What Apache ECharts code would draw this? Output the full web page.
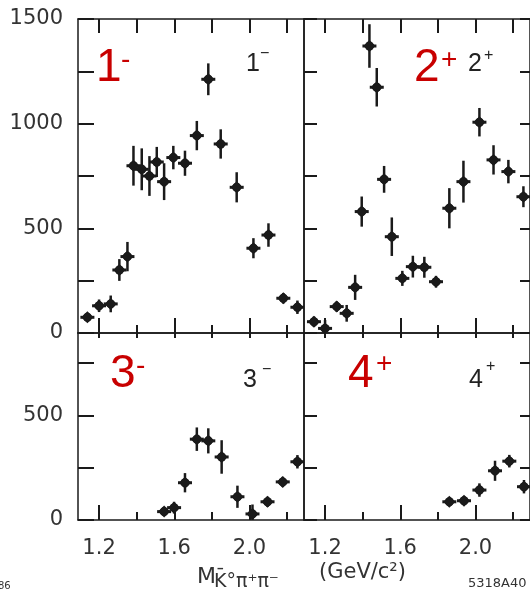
<!DOCTYPE html>
<html>
<head>
<meta charset="utf-8">
<script src="https://cdn.jsdelivr.net/npm/echarts@6/dist/echarts.min.js"></script>
<style>
  html, body { margin: 0; padding: 0; background: #fff; }
  #chart { width: 530px; height: 591px; }
</style>
</head>
<body>
<div id="chart"></div>
<script>
// K̄0 π+ π- invariant-mass spectra split by J^P wave.
// Bin centres in GeV/c^2, events per bin and their statistical errors.

// 1- wave
const massJ1   = [1.138, 1.200, 1.262, 1.308, 1.351, 1.383, 1.427, 1.468, 1.507, 1.546,
                  1.595, 1.657, 1.720, 1.781, 1.847, 1.932, 2.021, 2.101, 2.180, 2.255];
const eventsJ1 = [75, 130, 139, 301, 365, 799, 782, 750, 817, 723,
                  838, 811, 943, 1212, 903, 696, 405, 468, 166, 123];
const errorsJ1 = [20, 30, 40, 52, 70, 95, 100, 95, 72, 88,
                  56, 60, 70, 76, 70, 72, 48, 56, 25, 32];

// 2+ wave
const massJ2   = [1.141, 1.200, 1.262, 1.315, 1.360, 1.395, 1.436, 1.475, 1.514, 1.555,
                  1.611, 1.667, 1.728, 1.790, 1.861, 1.936, 2.021, 2.096, 2.175, 2.255];
const eventsJ2 = [54, 22, 126, 94, 218, 580, 1371, 1174, 734, 460,
                  261, 317, 314, 245, 596, 723, 1007, 827, 771, 651];
const errorsJ2 = [25, 40, 25, 40, 60, 72, 104, 92, 64, 92,
                  36, 52, 50, 28, 96, 100, 68, 70, 56, 50];

// 3- wave
const massJ3   = [1.546, 1.599, 1.657, 1.720, 1.781, 1.852, 1.936, 2.016, 2.096, 2.177, 2.255];
const eventsJ3 = [40, 59, 178, 386, 378, 301, 111, 29, 87, 182, 278];
const errorsJ3 = [20, 28, 46, 56, 60, 80, 53, 45, 24, 24, 32];

// 4+ wave
const massJ4   = [1.861, 1.939, 2.021, 2.104, 2.180, 2.258];
const eventsJ4 = [87, 92, 143, 235, 281, 159];
const errorsJ4 = [15, 15, 32, 48, 30, 32];

// Axis ticks and labels
const massMajorTicks = [1.2, 1.6, 2.0];
const massMinorTicks = [1.4, 1.8, 2.2];
const massAllTicks   = [1.2, 1.4, 1.6, 1.8, 2.0, 2.2];
const massLabels     = [1.2, 1.6, 2.0];
const countTicksTop    = [0, 250, 500, 750, 1000, 1250, 1500];
const countLabelsTop   = [0, 500, 1000, 1500];
const countTicksBottom  = [0, 250, 500, 750];
const countLabelsBottom = [0, 500];

const MASS_MIN = 1.088, MASS_MAX = 2.290;
const INK = '#1a1a1a';
const AXIS_FONT = '"DejaVu Sans", sans-serif';

const panels = [
  { left: 78,  top: 19,  height: 314, yMax: 1500, mass: massJ1, events: eventsJ1, errors: errorsJ1,
    isLeft: true,  isBottom: false, yTicks: countTicksTop, yLabels: countLabelsTop },
  { left: 304, top: 19,  height: 314, yMax: 1500, mass: massJ2, events: eventsJ2, errors: errorsJ2,
    isLeft: false, isBottom: false, yTicks: countTicksTop, yLabels: countLabelsTop },
  { left: 78,  top: 333, height: 187, yMax: 893,  mass: massJ3, events: eventsJ3, errors: errorsJ3,
    isLeft: true,  isBottom: true,  yTicks: countTicksBottom, yLabels: countLabelsBottom },
  { left: 304, top: 333, height: 187, yMax: 893,  mass: massJ4, events: eventsJ4, errors: errorsJ4,
    isLeft: false, isBottom: true,  yTicks: countTicksBottom, yLabels: countLabelsBottom }
];

const lineStyle = { color: INK, width: 1.5 };

const grid = [], xAxis = [], yAxis = [], series = [];

panels.forEach((p, g) => {
  grid.push({ left: p.left, top: p.top, width: 226, height: p.height,
              containLabel: false, outerBoundsMode: 'none' });

  // bottom axis: frame line, long ticks and mass labels
  xAxis.push({
    type: 'value', gridIndex: g, position: 'bottom', min: MASS_MIN, max: MASS_MAX,
    axisLine: { show: true, onZero: false, lineStyle },
    axisTick: { show: true, inside: true, length: 15, customValues: massMajorTicks,
                lineStyle: { color: INK, width: 2 } },
    axisLabel: { show: p.isBottom, customValues: massLabels, margin: 18,
                 fontSize: 21, fontFamily: AXIS_FONT, color: '#333',
                 formatter: v => v.toFixed(1) },
    splitLine: { show: false }
  });
  // bottom axis: short intermediate ticks
  xAxis.push({
    type: 'value', gridIndex: g, position: 'bottom', min: MASS_MIN, max: MASS_MAX,
    axisLine: { show: false, onZero: false },
    axisTick: { show: true, inside: true, length: 8, customValues: massMinorTicks,
                lineStyle: { color: INK, width: 2 } },
    axisLabel: { show: false }, splitLine: { show: false }
  });
  // top frame with ticks
  xAxis.push({
    type: 'value', gridIndex: g, position: 'top', min: MASS_MIN, max: MASS_MAX,
    axisLine: { show: true, onZero: false, lineStyle },
    axisTick: { show: true, inside: true, length: p.isBottom ? 5 : 14, customValues: massAllTicks,
                lineStyle: { color: INK, width: 2 } },
    axisLabel: { show: false }, splitLine: { show: false }
  });

  // left axis: event counts
  yAxis.push({
    type: 'value', gridIndex: g, position: 'left', min: 0, max: p.yMax,
    axisLine: { show: true, onZero: false, lineStyle },
    axisTick: { show: true, inside: true, length: p.isLeft ? 16 : 13, customValues: p.yTicks,
                lineStyle: { color: INK, width: 2 } },
    axisLabel: { show: p.isLeft, customValues: p.yLabels, margin: 15,
                 fontSize: 21, fontFamily: AXIS_FONT, color: '#333',
                 formatter: v => String(Math.round(v)) },
    splitLine: { show: false }
  });
  // right frame
  yAxis.push({
    type: 'value', gridIndex: g, position: 'right', min: 0, max: p.yMax,
    axisLine: { show: true, onZero: false, lineStyle },
    axisTick: { show: !p.isLeft, inside: true, length: 10, customValues: p.yTicks,
                lineStyle: { color: INK, width: 2 } },
    axisLabel: { show: false }, splitLine: { show: false }
  });

  series.push({
    type: 'custom', xAxisIndex: 3 * g, yAxisIndex: 2 * g,
    data: p.mass.map((m, i) => [m, p.events[i], p.errors[i]]),
    encode: { x: 0, y: 1 },
    clip: true,
    renderItem: (params, api) => {
      const m = api.value(0), n = api.value(1), e = api.value(2);
      const c  = api.coord([m, n]);
      const lo = api.coord([m, Math.max(0, n - e)]);
      const hi = api.coord([m, n + e]);
      return {
        type: 'group',
        children: [
          { type: 'line', shape: { x1: c[0], y1: lo[1], x2: c[0], y2: hi[1] },
            style: { stroke: INK, lineWidth: 2.5 } },
          { type: 'line', shape: { x1: c[0] - 7, y1: c[1], x2: c[0] + 7, y2: c[1] },
            style: { stroke: INK, lineWidth: 3 } },
          { type: 'polygon', shape: { points: [[c[0] - 6, c[1]], [c[0], c[1] - 6], [c[0] + 6, c[1]], [c[0], c[1] + 6]] },
            style: { fill: INK } },
          { type: 'circle', shape: { cx: c[0], cy: c[1], r: 4.5 }, style: { fill: INK } }
        ]
      };
    }
  });
});

// Wave tags: large red marker plus the small black original tag
const RED = '#c80000';
const redFont = '46px "Liberation Sans", Arial, sans-serif';
const redSup  = '28px "Liberation Sans", Arial, sans-serif';
const tagFont = '25px "Liberation Sans", Arial, sans-serif';
const tagSup  = '16px "Liberation Sans", Arial, sans-serif';

function txt(x, y, text, font, fill, align) {
  return { type: 'text', x: x, y: y, silent: true,
           style: { text: text, font: font, fill: fill, align: align || 'left', verticalAlign: 'middle' } };
}

const graphic = [
  txt(96, 68, '1', redFont, RED),   txt(121, 60, '-', redSup, RED),
  txt(414, 68, '2', redFont, RED),  txt(441, 60, '+', redSup, RED),
  txt(110, 374, '3', redFont, RED), txt(136, 366, '-', redSup, RED),
  txt(348, 374, '4', redFont, RED), txt(376, 364, '+', redSup, RED),

  txt(246, 64, '1', tagFont, '#222'), txt(260, 54, '−', tagSup, '#222'),
  txt(468, 64, '2', tagFont, '#222'), txt(484, 56, '+', tagSup, '#222'),
  txt(243, 380, '3', tagFont, '#222'), txt(262, 370, '−', tagSup, '#222'),
  txt(469, 380, '4', tagFont, '#222'), txt(486, 367, '+', tagSup, '#222'),

  // mass axis title
  txt(197, 577, 'M', '22px "DejaVu Sans", sans-serif', '#333'),
  txt(214, 582, 'K\u0304°π⁺π⁻', '19px "DejaVu Sans", sans-serif', '#333'),
  txt(319, 573, '(GeV/c²)', '21px "DejaVu Sans", sans-serif', '#333'),
  txt(-2, 586, '86', '10px "DejaVu Sans", sans-serif', '#333'),
  txt(468, 584, '5318A40', '13px "DejaVu Sans", sans-serif', '#333')
];

const chart = echarts.init(document.getElementById('chart'), null, { renderer: 'canvas' });
chart.setOption({
  animation: false,
  backgroundColor: '#fff',
  grid, xAxis, yAxis, series, graphic
});
</script>
</body>
</html>
